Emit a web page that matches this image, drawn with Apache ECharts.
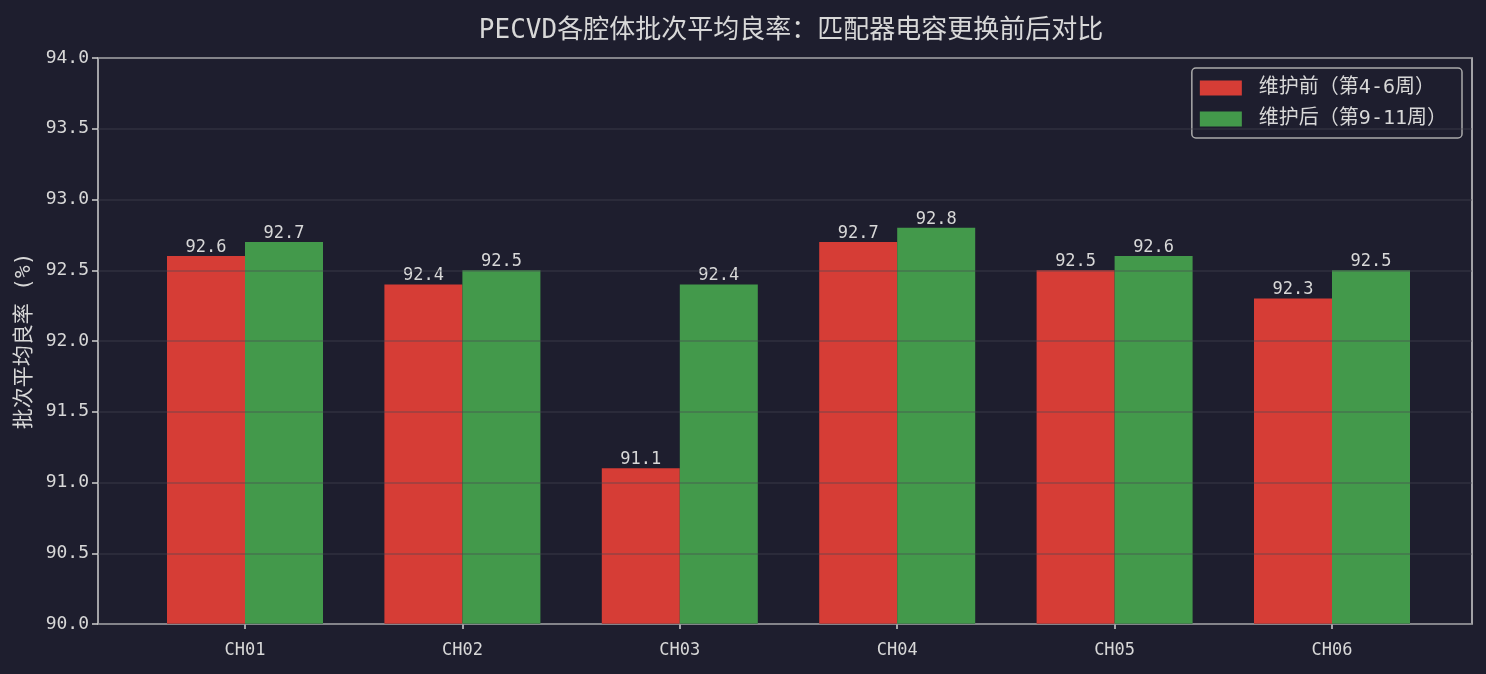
<!DOCTYPE html>
<html>
<head>
<meta charset="utf-8">
<script src="https://cdn.jsdelivr.net/npm/echarts@6/dist/echarts.min.js"></script>
<style>
  html, body { margin: 0; padding: 0; background: #1e1e2e; }
  #chart { width: 1486px; height: 674px; }
</style>
</head>
<body>
<div id="chart"></div>
<script>
// 数据
var chambers = ['CH01', 'CH02', 'CH03', 'CH04', 'CH05', 'CH06'];
var beforeData = [92.6, 92.4, 91.1, 92.7, 92.5, 92.3];
var afterData = [92.7, 92.5, 92.4, 92.8, 92.6, 92.5];
var seriesNames = ['维护前（第4-6周）', '维护后（第9-11周）'];

var font = '"DejaVu Sans Mono", "Noto Sans CJK SC", monospace';
var textColor = '#d8d8d8';

var myChart = echarts.init(document.getElementById('chart'));
var option = {
    backgroundColor: '#1e1e2e',
    textStyle: { fontFamily: font },
    title: {
        text: 'PECVD各腔体批次平均良率：匹配器电容更换前后对比',
        left: 786,
        textAlign: 'center',
        top: 13,
        textStyle: { color: textColor, fontSize: 26, fontWeight: 'normal', fontFamily: font }
    },
    legend: {
        right: 24,
        top: 68,
        orient: 'vertical',
        data: seriesNames,
        itemWidth: 42,
        itemHeight: 15,
        itemGap: 11,
        padding: [10, 15, 9, 8],
        backgroundColor: '#1e1e2e',
        borderColor: '#aaaaaa',
        borderWidth: 1.5,
        borderRadius: 4,
        icon: 'rect',
        textStyle: { color: textColor, fontSize: 20, padding: [0, 0, 0, 12], fontFamily: font }
    },
    grid: [
        // 外框 + y轴
        { left: 98, right: 14, top: 58, bottom: 50, show: true, borderColor: '#cfcfcf', borderWidth: 1.5 },
        // 柱子所在区域
        { left: 136.3, right: 45.3, top: 58, bottom: 50 }
    ],
    xAxis: [
        { type: 'value', gridIndex: 0, show: false, min: 0, max: 1 },
        {
            type: 'category',
            gridIndex: 1,
            data: chambers,
            axisLine: { show: false },
            axisTick: { show: true, alignWithLabel: true, length: 5, lineStyle: { color: '#cfcfcf', width: 1.5 } },
            axisLabel: { color: textColor, fontSize: 17, margin: 18, fontFamily: font }
        }
    ],
    yAxis: [
        {
            type: 'value',
            gridIndex: 0,
            min: 90,
            max: 94,
            interval: 0.5,
            z: 5,
            name: '批次平均良率 (%)',
            nameLocation: 'middle',
            nameGap: 53,
            nameTextStyle: { color: textColor, fontSize: 21, fontFamily: font },
            axisLine: { show: false },
            axisTick: { show: true, length: 6, lineStyle: { color: '#cfcfcf', width: 1.5 } },
            axisLabel: {
                color: textColor, fontSize: 18, margin: 9, fontFamily: font,
                formatter: function (v) { return v.toFixed(1); }
            },
            splitLine: { show: true, lineStyle: { color: 'rgba(70,70,84,0.45)', width: 1.5 } }
        },
        { type: 'value', gridIndex: 1, min: 90, max: 94, show: false }
    ],
    series: [
        {
            name: seriesNames[0],
            type: 'bar',
            xAxisIndex: 1,
            yAxisIndex: 1,
            barWidth: 78,
            barGap: '0%',
            itemStyle: { color: '#d63d36' },
            label: { show: true, position: 'top', distance: 0, color: textColor, fontSize: 17, fontFamily: font, formatter: function (p) { return p.value.toFixed(1); } },
            data: beforeData
        },
        {
            name: seriesNames[1],
            type: 'bar',
            xAxisIndex: 1,
            yAxisIndex: 1,
            barWidth: 78,
            barGap: '0%',
            itemStyle: { color: '#43994b' },
            label: { show: true, position: 'top', distance: 0, color: textColor, fontSize: 17, fontFamily: font, formatter: function (p) { return p.value.toFixed(1); } },
            data: afterData
        }
    ]
};
myChart.setOption(option);
</script>
</body>
</html>
